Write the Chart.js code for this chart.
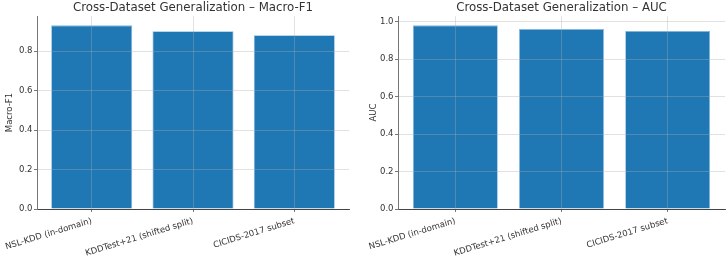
<!DOCTYPE html>
<html>
<head>
<meta charset="utf-8">
<script src="https://cdn.jsdelivr.net/npm/chart.js@4/dist/chart.umd.min.js"></script>
<style>
  html, body { margin: 0; padding: 0; background: #ffffff; }
  #wrap { position: relative; width: 728px; height: 261px; }
  .cell { position: absolute; top: 0; width: 364px; height: 261px; }
  #c1 { left: 0; }
  #c2 { left: 364px; }
</style>
</head>
<body>
<div id="wrap">
  <div class="cell" id="c1"><canvas id="chart1" width="364" height="261"></canvas></div>
  <div class="cell" id="c2"><canvas id="chart2" width="364" height="261"></canvas></div>
</div>
<script>
const categories = ["NSL-KDD (in-domain)", "KDDTest+21 (shifted split)", "CICIDS-2017 subset"];
const macroF1 = [0.93, 0.90, 0.88];
const auc = [0.98, 0.96, 0.95];
const yTicks = [0.0, 0.2, 0.4, 0.6, 0.8, 1.0];
const titles = ["Cross-Dataset Generalization \u2013 Macro-F1", "Cross-Dataset Generalization \u2013 AUC"];
const yLabels = ["Macro-F1", "AUC"];

const FONT = "'DejaVu Sans', sans-serif";
const TEXT = "#333333";
const BAR = "#1f77b4";
const GRID = "rgba(170,170,170,0.45)";
const SMALL = 8.5;

function makeChart(canvasId, values, title, yLabel, yAxisWidth, padRight) {
  const ymax = Math.max(...values) * 1.05;
  const n = categories.length;
  const xmin = -0.4 - 0.14, xmax = (n - 1) + 0.4 + 0.14;
  return new Chart(document.getElementById(canvasId), {
    type: 'bar',
    data: {
      datasets: [{
        data: values.map((v, i) => ({ x: i, y: v })),
        backgroundColor: BAR,
        borderColor: 'rgba(120,175,220,0.9)',
        borderWidth: 0.8,
        barPercentage: 0.8,
        categoryPercentage: 1.0
      }]
    },
    options: {
      responsive: false,
      animation: false,
      devicePixelRatio: 1,
      layout: { padding: { left: 0, right: padRight, top: 0, bottom: 0 } },
      plugins: {
        legend: { display: false },
        tooltip: { enabled: false },
        title: {
          display: true,
          fullSize: false,
          text: title,
          color: TEXT,
          font: { family: FONT, size: 11.8, weight: 'normal' },
          padding: { top: 1, bottom: 1 }
        }
      },
      scales: {
        x: {
          type: 'linear',
          offset: false,
          min: xmin,
          max: xmax,
          afterBuildTicks: (s) => { s.ticks = categories.map((c, i) => ({ value: i })); },
          afterFit: (s) => { s.height = 52; s.paddingLeft = 0; s.paddingRight = 0; },
          grid: {
            offset: false,
            z: 1,
            color: GRID,
            lineWidth: 0.8,
            tickColor: '#555555',
            tickLength: 3,
            tickWidth: 0.8
          },
          border: { display: true, color: '#444444', width: 1, z: 2 },
          ticks: {
            autoSkip: false,
            minRotation: 17,
            maxRotation: 17,
            padding: 4,
            color: TEXT,
            font: { family: FONT, size: SMALL },
            callback: (v) => categories[v]
          }
        },
        y: {
          min: 0,
          max: ymax,
          afterBuildTicks: (s) => { s.ticks = yTicks.filter(t => t <= ymax + 1e-9).map(t => ({ value: t })); },
          afterFit: (s) => { s.width = yAxisWidth; },
          grid: {
            z: 1,
            color: GRID,
            lineWidth: 0.8,
            tickColor: '#555555',
            tickLength: 3,
            tickWidth: 0.8
          },
          border: { display: true, color: '#777777', width: 1, z: 2 },
          title: {
            display: true,
            text: yLabel,
            color: TEXT,
            font: { family: FONT, size: SMALL },
            padding: { top: 5, bottom: 0 }
          },
          ticks: {
            padding: 1.5,
            color: TEXT,
            font: { family: FONT, size: SMALL },
            callback: (v) => Number(v).toFixed(1)
          }
        }
      }
    }
  });
}

makeChart('chart1', macroF1, titles[0], yLabels[0], 37, 15);
makeChart('chart2', auc, titles[1], yLabels[1], 34, 3);
</script>
</body>
</html>
